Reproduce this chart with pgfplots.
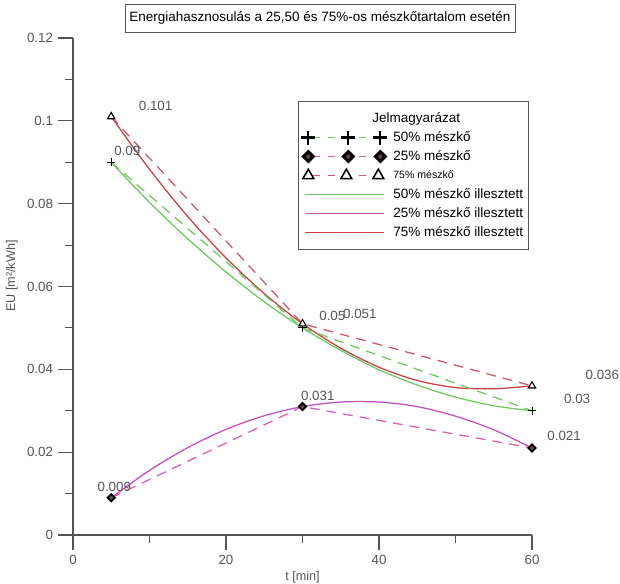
\documentclass[border=0pt]{standalone}
\usepackage{fontspec}
\setmainfont{Liberation Sans}
\usepackage{pgfplots}
\pgfplotsset{compat=1.18}

\definecolor{zold}{RGB}{110,200,95}
\definecolor{lila}{RGB}{195,80,185}
\definecolor{piros}{RGB}{200,65,65}
\definecolor{lilaszagg}{RGB}{215,95,170}
\definecolor{pirosszagg}{RGB}{205,85,105}
\definecolor{szurke}{RGB}{85,85,85}

\begin{document}
\begin{tikzpicture}
\useasboundingbox (-1.825cm,-1.2cm) rectangle (13.675cm,13.375cm);
\begin{axis}[
  at={(0,0)}, anchor=origin,
  scale only axis, width=11.475cm, height=12.425cm,
  xmin=0, xmax=60, ymin=0, ymax=0.12,
  clip=false,
  axis lines=left,
  axis line style={-, draw=szurke, line width=0.8pt},
  tick align=outside,
  major tick length=0.375cm, minor tick length=0.2cm,
  every tick/.style={draw=szurke, line width=0.8pt},
  xtick={0,20,40,60}, minor xtick={10,30,50},
  ytick={0,0.02,0.04,0.06,0.08,0.1,0.12},
  minor ytick={0.01,0.03,0.05,0.07,0.09,0.11},
  scaled y ticks=false,
  yticklabel style={/pgf/number format/fixed, /pgf/number format/precision=2},
  /pgf/number format/assume math mode=true,
  tick label style={font=\fontsize{9.5}{11}\selectfont, text=szurke},
  xlabel={t [min]}, ylabel={EU [m²/kWh]},
  label style={font=\fontsize{9}{11}\selectfont, text=szurke},
  xlabel style={at={(axis description cs:0.5,-0.0845)}, anchor=center},
  ylabel style={at={(axis description cs:-0.133,0.521)}, anchor=center},
  title={Energiahasznosulás a 25,50 és 75\%-os mészkőtartalom esetén},
  every axis title shift=0pt,
  title style={at={(axis description cs:0.538,1.040)}, anchor=center,
    draw=szurke, line width=0.6pt, font=\fontsize{9.6}{11}\selectfont,
    minimum width=9.75cm, minimum height=0.7cm, inner sep=0pt},
  legend cell align=left,
  legend style={at={(axis description cs:0.490,0.873)}, anchor=north west,
    draw=szurke, line width=0.6pt, inner xsep=0pt, inner ysep=0.1875cm,
    column sep=0.15cm, row sep=0pt,
    nodes={inner sep=0pt, minimum height=0.475cm, anchor=west,
      font=\fontsize{9.6}{11}\selectfont, text=black}},
]

% jelmagyarazat
\addlegendimage{empty legend}
\addlegendentry{\hspace*{-0.525cm}Jelmagyarázat}
\addlegendimage{legend image code/.code={
  \path[draw=none] (-0.2cm,0cm) -- (2.0cm,0cm);
  \draw[zold, line width=0.8pt, dash pattern=on 5pt off 6pt, dash phase=-3pt] (0.05cm,0cm) -- (1.85cm,0cm);
  \draw[black, line width=1.5pt] plot[only marks, mark=+, mark size=5pt] coordinates {(0.05cm,0cm) (1.05cm,0cm) (1.85cm,0cm)};
}}
\addlegendentry{50\% mészkő}
\addlegendimage{legend image code/.code={
  \path[draw=none] (-0.2cm,0cm) -- (2.0cm,0cm);
  \draw[lilaszagg, line width=0.8pt, dash pattern=on 5pt off 6pt, dash phase=-3pt] (0.05cm,0cm) -- (1.85cm,0cm);
  \draw[black, line width=2.2pt, fill=pink!40!black] plot[only marks, mark=square*, mark size=2.4pt, mark options={rotate=45}] coordinates {(0.05cm,0cm) (1.05cm,0cm) (1.85cm,0cm)};
}}
\addlegendentry{25\% mészkő}
\addlegendimage{legend image code/.code={
  \path[draw=none] (-0.2cm,0cm) -- (2.0cm,0cm);
  \draw[pirosszagg, line width=0.8pt, dash pattern=on 5pt off 6pt, dash phase=-3pt] (0.05cm,0cm) -- (1.85cm,0cm);
  \draw[black, line width=1.1pt, fill=white] plot[only marks, mark=triangle*, mark size=4.5pt] coordinates {(0.05cm,0cm) (1.0cm,0cm) (1.8cm,0cm)};
}}
\addlegendentry{\fontsize{7.5}{9}\selectfont 75\% mészkő}
\addlegendimage{legend image code/.code={
  \path[draw=none] (-0.2cm,0cm) -- (2.0cm,0cm);
  \draw[zold, line width=0.9pt] (-0.025cm,0cm) -- (1.95cm,0cm);
}}
\addlegendentry{50\% mészkő illesztett\hspace*{0.12cm}}
\addlegendimage{legend image code/.code={
  \path[draw=none] (-0.2cm,0cm) -- (2.0cm,0cm);
  \draw[lila, line width=0.9pt] (-0.025cm,0cm) -- (1.95cm,0cm);
}}
\addlegendentry{25\% mészkő illesztett\hspace*{0.12cm}}
\addlegendimage{legend image code/.code={
  \path[draw=none] (-0.2cm,0cm) -- (2.0cm,0cm);
  \draw[piros, line width=0.9pt] (-0.025cm,0cm) -- (1.95cm,0cm);
}}
\addlegendentry{75\% mészkő illesztett\hspace*{0.12cm}}

% illesztett gorbek
\addplot[zold, line width=0.9pt, smooth, forget plot] coordinates {
  (5,0.0900) (10,0.0803) (15,0.0715) (20,0.0635) (25,0.0563) (30,0.0500)
  (35,0.0446) (40,0.0399) (45,0.0362) (50,0.0333) (55,0.0312) (60,0.0300)
};
\addplot[lila, line width=0.9pt, smooth, forget plot] coordinates {
  (5,0.0090) (10,0.0156) (15,0.0211) (20,0.0255) (25,0.0288) (30,0.0310)
  (35,0.0321) (40,0.0321) (45,0.0310) (50,0.0287) (55,0.0254) (60,0.0210)
};
\addplot[piros, line width=0.9pt, smooth, forget plot] coordinates {
  (5,0.1010) (10,0.0883) (15,0.0769) (20,0.0669) (25,0.0583) (30,0.0510)
  (35,0.0451) (40,0.0405) (45,0.0373) (50,0.0356) (55,0.0353) (60,0.0360)
};

% meresi pontok
\addplot[zold, line width=0.9pt, dash pattern=on 7pt off 5pt, mark=+, mark size=3pt,
  mark options={solid, black, line width=0.7pt}, forget plot]
  coordinates {(5,0.090) (30,0.050) (60,0.030)};
\addplot[lilaszagg, line width=0.9pt, dash pattern=on 7pt off 5pt, mark=square*, mark size=1.8pt,
  mark options={solid, rotate=45, draw=black, fill=pink!40!black, line width=1.3pt}, forget plot]
  coordinates {(5,0.009) (30,0.031) (60,0.021)};
\addplot[pirosszagg, line width=0.9pt, dash pattern=on 7pt off 5pt, mark=triangle*, mark size=3pt,
  mark options={solid, draw=black, fill=white, line width=0.8pt}, forget plot]
  coordinates {(5,0.101) (30,0.051) (60,0.036)};

% ertekek
\begin{scope}[every node/.style={font=\fontsize{9.5}{11}\selectfont, text=szurke}]
\node at (axis cs:10.8,0.1036) {0.101};
\node at (axis cs:7.1,0.0927) {0.09};
\node at (axis cs:33.9,0.0529) {0.05};
\node at (axis cs:37.5,0.0534) {0.051};
\node at (axis cs:32.0,0.0336) {0.031};
\node at (axis cs:5.4,0.0116) {0.009};
\node at (axis cs:69.2,0.0386) {0.036};
\node at (axis cs:65.9,0.0328) {0.03};
\node at (axis cs:64.2,0.0239) {0.021};
\end{scope}
\end{axis}
\end{tikzpicture}
\end{document}
